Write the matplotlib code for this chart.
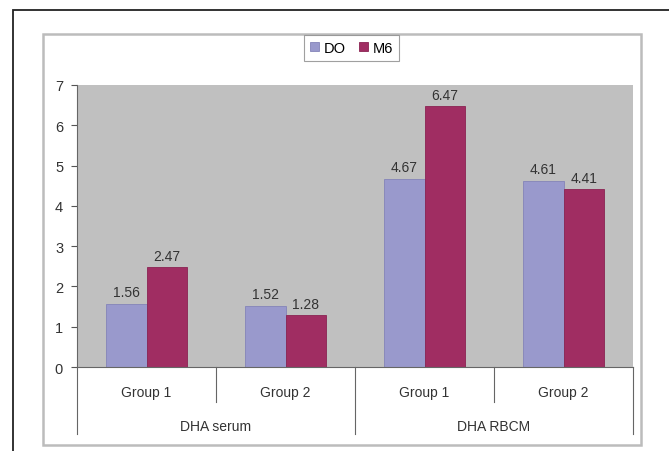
import numpy as np
import matplotlib.pyplot as plt
from matplotlib.patches import Rectangle
from matplotlib.transforms import blended_transform_factory

plt.rcParams['font.family'] = ['Liberation Sans', 'DejaVu Sans']

# data
groups = ["Group 1", "Group 2", "Group 1", "Group 2"]
measures = ["DHA serum", "DHA RBCM"]
do_values = [1.56, 1.52, 4.67, 4.61]
m6_values = [2.47, 1.28, 6.47, 4.41]

W, H = 669, 452
fig = plt.figure(figsize=(W / 100, H / 100), dpi=100)
fig.patch.set_facecolor("white")

def px(x0, y0, x1, y1):
    # pixel box (top-left origin) -> figure fraction
    return [x0 / W, 1 - y1 / H, (x1 - x0) / W, (y1 - y0) / H]

# outer frame and the chart box
fig.add_artist(Rectangle((13 / W, -0.1), 1.2, 1 - 10.5 / H + 0.1, transform=fig.transFigure,
                         fill=False, edgecolor="#222222", linewidth=1.3))
fig.add_artist(Rectangle((43 / W, 1 - 446 / H), (641 - 43) / W, (446 - 35) / H,
                         transform=fig.transFigure, fill=False, edgecolor="#bcbcbc", linewidth=1.8))

ax = fig.add_axes(px(77, 86, 633, 368))
ax.set_facecolor("#c0c0c0")

x = np.arange(len(groups))
bw = 0.29
b1 = ax.bar(x - bw / 2, do_values, bw, color="#9999cc", edgecolor="#8484b8", linewidth=0.6, label="DO")
b2 = ax.bar(x + bw / 2, m6_values, bw, color="#a02d62", edgecolor="#8a2352", linewidth=0.6, label="M6")

for bars, vals in [(b1, do_values), (b2, m6_values)]:
    for rect, v in zip(bars, vals):
        ax.text(rect.get_x() + rect.get_width() / 2, v + 0.12, f"{v:.2f}",
                ha="center", va="bottom", fontsize=10, color="#333333")

ax.set_xlim(-0.5, len(groups) - 0.5)
ax.set_ylim(0, 7)
ax.set_yticks(range(8))
ax.tick_params(axis="y", direction="out", length=4, width=0.8, colors="#555555",
               labelsize=10.5, labelcolor="#333333", pad=6)
ax.set_xticks([])
for side in ["top", "right"]:
    ax.spines[side].set_visible(False)
ax.spines["left"].set_color("#666666")
ax.spines["bottom"].set_color("#666666")

# two-level category axis
tr = blended_transform_factory(ax.transData, ax.transAxes)
axis_h = 368 - 86
for b in [0.5, 2.5]:
    ax.plot([b, b], [0, -(403 - 368) / axis_h], transform=tr, clip_on=False, color="#666666", lw=0.8)
for b in [-0.5, 1.5, 3.5]:
    ax.plot([b, b], [0, -(435 - 368) / axis_h], transform=tr, clip_on=False, color="#666666", lw=0.8)
for xi, g in zip(x, groups):
    ax.text(xi, -(393 - 368) / axis_h, g, transform=tr, ha="center", va="center",
            fontsize=10, color="#333333")
for i, m in enumerate(measures):
    ax.text(2 * i + 0.5, -(427 - 368) / axis_h, m, transform=tr, ha="center", va="center",
            fontsize=10, color="#333333")

leg = fig.legend(handles=[b1, b2], loc="center", bbox_to_anchor=(351.5 / W, 1 - 49 / H),
                 ncol=2, frameon=True, fancybox=False, fontsize=10.5, handlelength=0.6,
                 handleheight=0.6, handletextpad=0.35, columnspacing=0.9, borderpad=0.4)
leg.get_frame().set_edgecolor("#888888")
leg.get_frame().set_linewidth(0.8)

fig.savefig("out.png", dpi=100)
